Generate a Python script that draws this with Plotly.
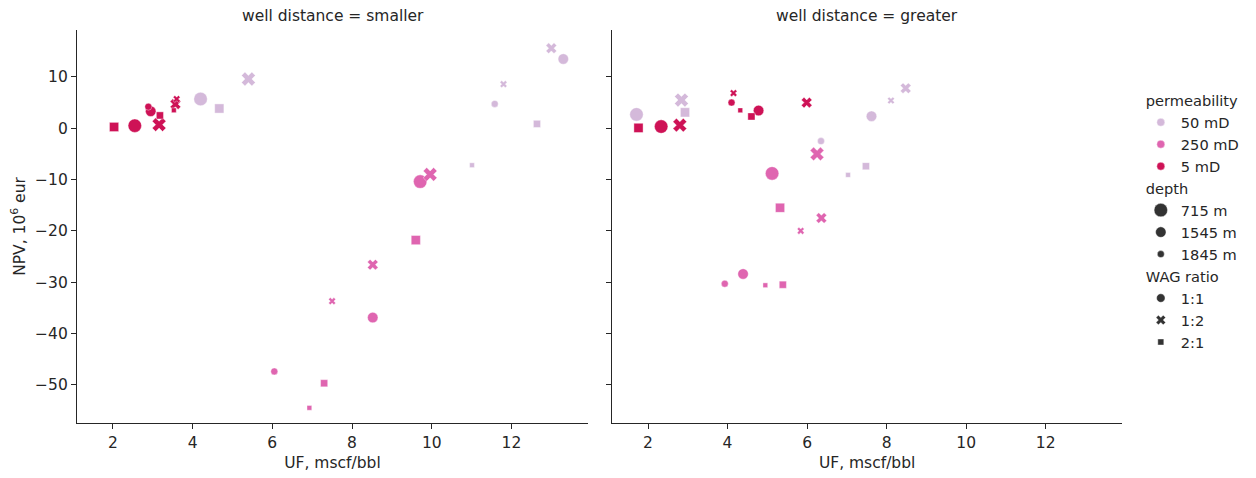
import plotly.graph_objects as go

# ---------------- data ----------------
panels = ["smaller", "greater"]
permeability_levels = ["50 mD", "250 mD", "5 mD"]
depth_levels = [715, 1545, 1845]
wag_levels = ["1:1", "1:2", "2:1"]

well_distance = (["smaller"] * 27) + (["greater"] * 27)
permeability = (["50 mD"] * 9 + ["250 mD"] * 9 + ["5 mD"] * 9) * 2
wag_ratio = ((["1:1"] * 3 + ["1:2"] * 3 + ["2:1"] * 3) * 3) * 2
depth = ([715, 1545, 1845] * 9) * 2

uf = [
    # smaller - 50 mD
    4.20, 13.30, 11.58, 5.40, 13.00, 11.80, 4.67, 12.64, 11.01,
    # smaller - 250 mD
    9.71, 8.52, 6.05, 9.96, 8.52, 7.50, 9.60, 7.30, 6.93,
    # smaller - 5 mD
    2.55, 2.95, 2.89, 3.16, 3.57, 3.60, 2.03, 3.18, 3.53,
    # greater - 50 mD
    1.71, 7.62, 6.35, 2.84, 8.48, 8.11, 2.93, 7.48, 7.03,
    # greater - 250 mD
    5.12, 4.39, 3.93, 6.25, 6.36, 5.84, 5.32, 5.39, 4.95,
    # greater - 5 mD
    2.33, 4.78, 4.10, 2.80, 5.99, 4.15, 1.76, 4.60, 4.32,
]
npv = [
    # smaller - 50 mD
    5.7, 13.5, 4.75, 9.6, 15.6, 8.6, 3.85, 0.85, -7.2,
    # smaller - 250 mD
    -10.4, -36.9, -47.4, -9.0, -26.6, -33.7, -21.8, -49.7, -54.5,
    # smaller - 5 mD
    0.5, 3.3, 4.2, 0.7, 4.7, 5.7, 0.25, 2.5, 3.5,
    # greater - 50 mD
    2.7, 2.35, -2.5, 5.5, 7.8, 5.4, 3.1, -7.4, -9.1,
    # greater - 250 mD
    -8.8, -28.4, -30.3, -5.0, -17.5, -20.0, -15.5, -30.5, -30.6,
    # greater - 5 mD
    0.33, 3.45, 5.0, 0.6, 5.0, 6.85, 0.06, 2.3, 3.5,
]

# ---------------- styles ----------------
colors = {"50 mD": "#d4b9da", "250 mD": "#df65b0", "5 mD": "#ce1256"}
symbols = {"1:1": "circle", "1:2": "x", "2:1": "square"}
base_size = {715: 13.5, 1545: 10.5, 1845: 7.0}
symbol_scale = {"1:1": 1.0, "1:2": 0.9, "2:1": 0.68}
dark = "#333333"
axis_color = "#262626"
font_family = "DejaVu Sans"
fs = 15.5
legend_fs = 14.6

fig = go.Figure()

for pi, panel in enumerate(panels):
    xa = "x" if pi == 0 else "x2"
    ya = "y" if pi == 0 else "y2"
    for perm in permeability_levels:
        for wag in wag_levels:
            idx = [i for i in range(len(uf))
                   if well_distance[i] == panel and permeability[i] == perm and wag_ratio[i] == wag]
            fig.add_trace(go.Scatter(
                x=[uf[i] for i in idx],
                y=[npv[i] for i in idx],
                mode="markers",
                xaxis=xa, yaxis=ya,
                showlegend=False,
                marker=dict(
                    color=colors[perm],
                    opacity=1,
                    symbol=symbols[wag],
                    size=[base_size[depth[i]] * symbol_scale[wag] for i in idx],
                    line=dict(color="white", width=0.4),
                ),
                hovertemplate="UF=%{x}<br>NPV=%{y}<extra></extra>",
            ))

# ---------------- legend entries ----------------
for perm in permeability_levels:
    fig.add_trace(go.Scatter(
        x=[None], y=[None], mode="markers", name=perm,
        legendgroup="perm", legendgrouptitle_text="permeability",
        marker=dict(color=colors[perm], opacity=1, symbol="circle", size=8, line=dict(color="white", width=0.4)),
    ))
for d in depth_levels:
    fig.add_trace(go.Scatter(
        x=[None], y=[None], mode="markers", name=f"{d} m",
        legendgroup="depth", legendgrouptitle_text="depth",
        marker=dict(color=dark, opacity=1, symbol="circle", size=base_size[d], line=dict(color="white", width=0.4)),
    ))
for wag in wag_levels:
    fig.add_trace(go.Scatter(
        x=[None], y=[None], mode="markers", name=wag,
        legendgroup="wag", legendgrouptitle_text="WAG ratio",
        marker=dict(color=dark, opacity=1, symbol=symbols[wag], size=6 if wag == "2:1" else 8.5,
                    line=dict(color="white", width=0.4)),
    ))

axis_common = dict(
    showgrid=False, zeroline=False, showline=True, linecolor=axis_color, linewidth=1.25,
    ticks="outside", ticklen=5, tickwidth=1.25, tickcolor=axis_color,
    tickfont=dict(family=font_family, size=fs, color=axis_color),
    mirror=False, automargin=False,
)
xrange = [1.10, 13.92]
yrange = [-57.45, 19.15]

# page body has an 8px default margin, so the figure is 8px smaller than the window
fig.update_layout(
    width=1248, height=470,
    margin=dict(l=69, r=134, t=22, b=55, autoexpand=False),
    paper_bgcolor="white", plot_bgcolor="white",
    font=dict(family=font_family, size=fs, color=axis_color),
    xaxis=dict(domain=[0, 0.489], range=xrange, tickvals=[2, 4, 6, 8, 10, 12],
               title=dict(text="UF, mscf/bbl", standoff=6, font=dict(size=fs)), **axis_common),
    xaxis2=dict(domain=[0.5122, 1.0], range=xrange, tickvals=[2, 4, 6, 8, 10, 12],
                title=dict(text="UF, mscf/bbl", standoff=6, font=dict(size=fs)), **axis_common),
    yaxis=dict(range=yrange, tickvals=[-50, -40, -30, -20, -10, 0, 10], anchor="x",
               title=dict(text="NPV, 10<sup>6</sup> eur", standoff=10, font=dict(size=fs)), **axis_common),
    yaxis2=dict(range=yrange, tickvals=[-50, -40, -30, -20, -10, 0, 10], anchor="x2",
                showticklabels=False, **axis_common),
    legend=dict(
        x=1.018, xanchor="left", y=0.862, yanchor="top",
        font=dict(family=font_family, size=legend_fs, color=axis_color),
        grouptitlefont=dict(family=font_family, size=legend_fs, color=axis_color),
        tracegroupgap=0, itemsizing="trace", bgcolor="rgba(0,0,0,0)",
    ),
    annotations=[
        dict(text="well distance = smaller", xref="x domain", yref="paper", x=0.5, y=1.0,
             yshift=14, showarrow=False, xanchor="center", yanchor="middle",
             font=dict(family=font_family, size=fs, color=axis_color)),
        dict(text="well distance = greater", xref="x2 domain", yref="paper", x=0.5, y=1.0,
             yshift=14, showarrow=False, xanchor="center", yanchor="middle",
             font=dict(family=font_family, size=fs, color=axis_color)),
    ],
)

fig.write_html("out.html")
